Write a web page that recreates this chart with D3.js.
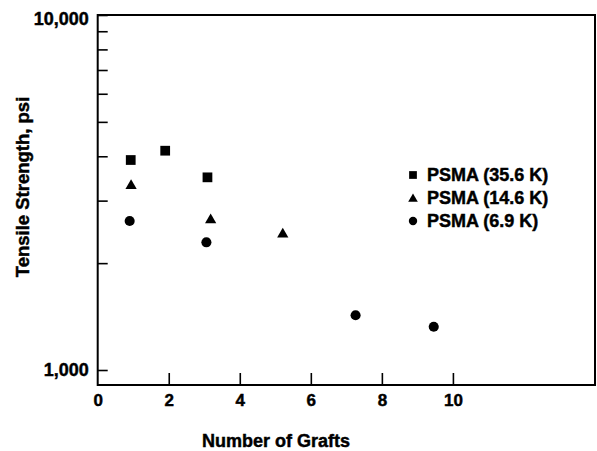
<!DOCTYPE html>
<html>
<head>
<meta charset="utf-8">
<script src="https://cdn.jsdelivr.net/npm/d3@7"></script>
<style>
  html, body { margin: 0; padding: 0; background: #fff; }
  svg { display: block; }
  text { font-family: "Liberation Sans", Arial, Helvetica, sans-serif; font-weight: bold; fill: #000; stroke: #000; stroke-width: 0.45px; }
</style>
</head>
<body>
<svg id="chart" width="597" height="451"></svg>
<script>
// ---- data ----
const seriesNames = ["PSMA (35.6 K)", "PSMA (14.6 K)", "PSMA (6.9 K)"];
const seriesSymbols = ["square", "triangle", "circle"];
const graftsA = [0.93, 1.9, 3.09];
const strengthA = [3904, 4147, 3489];
const graftsB = [0.94, 3.18, 5.21];
const strengthB = [3305, 2645, 2411];
const graftsC = [0.90, 3.06, 7.26, 9.46];
const strengthC = [2628, 2289, 1426, 1324];
const xTicks = [0, 2, 4, 6, 8, 10];
const yTicks = [1000, 2000, 3000, 4000, 5000, 6000, 7000, 8000, 9000, 10000];
const yLabelled = [1000, 10000];
const xTitle = "Number of Grafts";
const yTitle = "Tensile Strength, psi";

// ---- layout ----
const plotL = 97.7, plotR = 595, plotT = 15, plotB = 385;
const svg = d3.select("#chart");

const x = d3.scaleLinear().domain([0, 14]).range([plotL, plotR]);
const y = d3.scaleLog().domain([1000, 10000]).range([370, plotT]);

// frame
svg.append("rect")
  .attr("x", plotL).attr("y", plotT)
  .attr("width", plotR - plotL).attr("height", plotB - plotT)
  .attr("fill", "none").attr("stroke", "#000").attr("stroke-width", 2);

// y axis
const yAxis = d3.axisLeft(y)
  .tickValues(yTicks)
  .tickSize(-10)
  .tickPadding(9)
  .tickFormat(d => yLabelled.includes(d) ? d3.format(",")(d) : "");
const gy = svg.append("g").attr("transform", `translate(${plotL},0)`).call(yAxis);
gy.select(".domain").remove();
gy.selectAll(".tick line").attr("stroke", "#000").attr("stroke-width", 1.6);
gy.selectAll(".tick text").style("font-size", "18px").attr("fill", "#000");
gy.selectAll(".tick").filter(d => d === 10000).select("text").attr("y", 4);

// x axis
const xAxis = d3.axisBottom(x)
  .tickValues(xTicks)
  .tickSize(-12)
  .tickPadding(9)
  .tickFormat(d3.format("d"));
const gx = svg.append("g").attr("transform", `translate(0,${plotB})`).call(xAxis);
gx.select(".domain").remove();
gx.selectAll(".tick line").attr("stroke", "#000").attr("stroke-width", 1.6)
  .attr("display", d => d === 0 ? "none" : null);
gx.selectAll(".tick text").style("font-size", "17px").attr("fill", "#000");

// titles
svg.append("text")
  .attr("x", 276).attr("y", 447)
  .attr("text-anchor", "middle")
  .style("font-size", "18px")
  .text(xTitle);
svg.append("text")
  .attr("transform", "translate(29,187) rotate(-90)")
  .attr("text-anchor", "middle")
  .style("font-size", "18.5px")
  .text(yTitle);

// points
const symMap = { square: d3.symbolSquare, triangle: d3.symbolTriangle, circle: d3.symbolCircle };
const markSize = { square: 95, triangle: 55, circle: 80 };
const legendSize = { square: 60, triangle: 40, circle: 55 };
const series = [
  { xs: graftsA, ys: strengthA },
  { xs: graftsB, ys: strengthB },
  { xs: graftsC, ys: strengthC }
];
series.forEach((s, i) => {
  const sym = seriesSymbols[i];
  const pts = s.xs.map((g, j) => ({ g, v: s.ys[j] }));
  svg.append("g").selectAll("path").data(pts).join("path")
    .attr("d", d3.symbol().type(symMap[sym]).size(markSize[sym]))
    .attr("transform", d => `translate(${x(d.g)},${y(d.v)})`)
    .attr("fill", "#000");
});

// legend
const lg = svg.append("g").attr("transform", "translate(413,175)");
seriesNames.forEach((name, i) => {
  const sym = seriesSymbols[i];
  const row = lg.append("g").attr("transform", `translate(0,${i * 23})`);
  row.append("path")
    .attr("d", d3.symbol().type(symMap[sym]).size(legendSize[sym]))
    .attr("transform", sym === "triangle" ? "translate(0,1)" : null)
    .attr("fill", "#000");
  row.append("text")
    .attr("x", 14).attr("y", 0).attr("dy", "0.36em")
    .style("font-size", "18px")
    .text(name);
});
</script>
</body>
</html>
